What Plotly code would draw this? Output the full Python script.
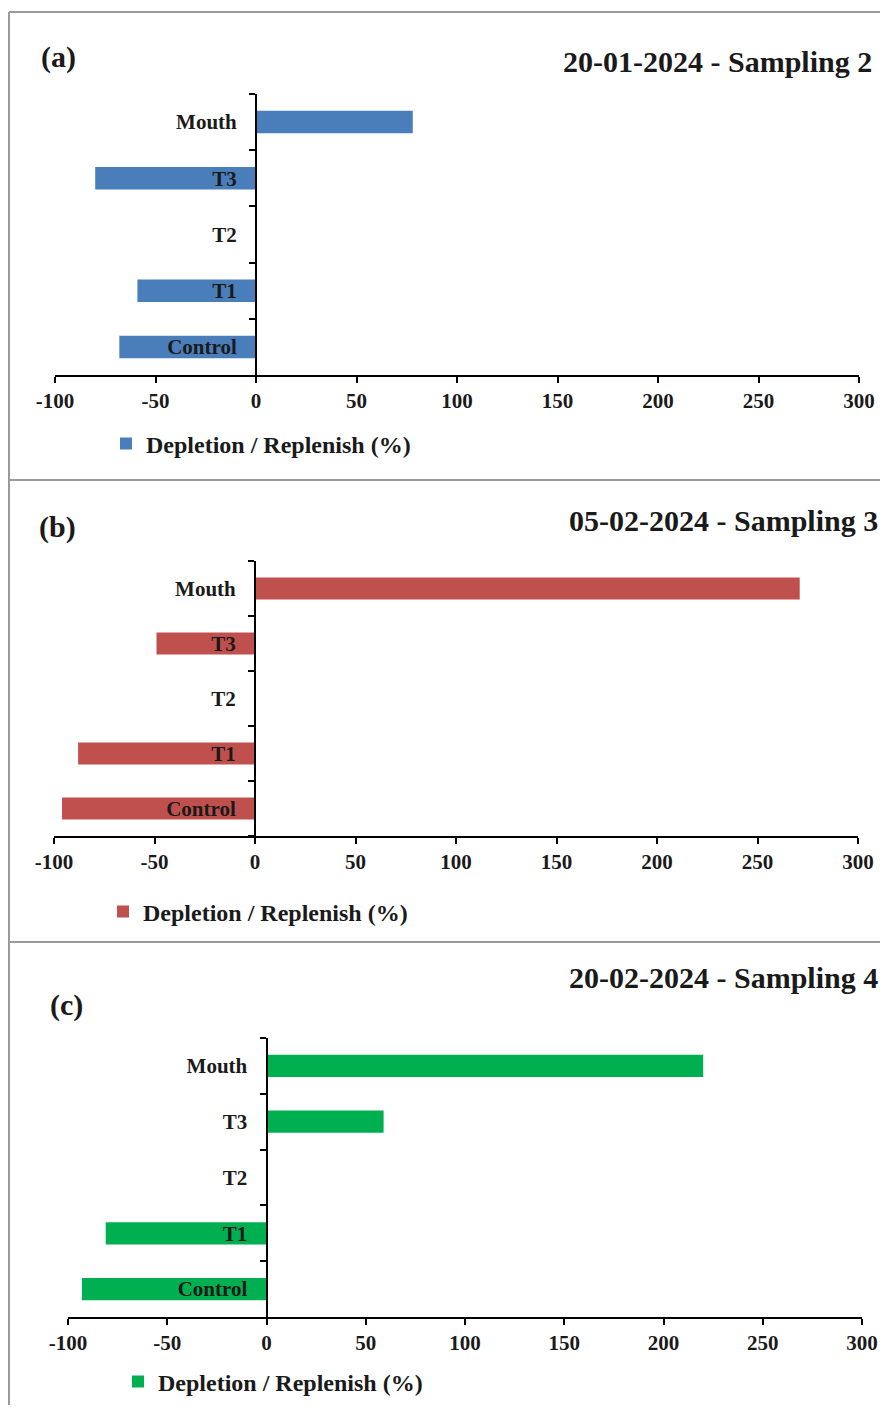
import plotly.graph_objects as go

# Data
CATEGORIES = ['Control', 'T1', 'T2', 'T3', 'Mouth']
SAMPLING_2 = [-68, -59, 0, -80, 78]
SAMPLING_3 = [-96, -88, 0, -49, 271]
SAMPLING_4 = [-93, -81, 0, 59, 220]
X_TICKS = [-100, -50, 0, 50, 100, 150, 200, 250, 300]
X_TICK_LABELS = ['-100', '-50', '0', '50', '100', '150', '200', '250', '300']
X_RANGE = [-100, 300]
SERIES_NAME = 'Depletion / Replenish (%)'

# the page body adds an 8px margin, so the figure is drawn 8px in from the corner
PAGE_W, PAGE_H = 888, 1413
OFFSET = 8
W, H = PAGE_W - 2 * OFFSET, PAGE_H - 2 * OFFSET
FONT = 'Liberation Serif'


def fx(px):
    return (px - OFFSET) / W


def fy(py):
    return 1 - (py - OFFSET) / H


# layout of each panel in page pixels
PANELS = [
    dict(values=SAMPLING_2, color='#4A7EBB', tag='(a)', title='20-01-2024 - Sampling 2',
         plot_x=(55, 859), plot_y=(94, 375), tag_pos=(39, 57), title_pos=(874, 62),
         legend_pos=(106, 444)),
    dict(values=SAMPLING_3, color='#C0504D', tag='(b)', title='05-02-2024 - Sampling 3',
         plot_x=(54, 858), plot_y=(561, 836), tag_pos=(37, 527), title_pos=(880, 520),
         legend_pos=(103, 912)),
    dict(values=SAMPLING_4, color='#00B050', tag='(c)', title='20-02-2024 - Sampling 4',
         plot_x=(68, 862), plot_y=(1038, 1317), tag_pos=(48, 1005), title_pos=(880, 977),
         legend_pos=(118, 1382)),
]

fig = go.Figure()
annotations = []
layout_axes = {}

for i, p in enumerate(PANELS, start=1):
    sfx = '' if i == 1 else str(i)
    legend_id = 'legend' + sfx
    fig.add_trace(go.Bar(
        x=p['values'], y=CATEGORIES, orientation='h',
        marker=dict(color=p['color'], line=dict(width=0)),
        width=0.4, name=SERIES_NAME,
        xaxis='x' + sfx, yaxis='y' + sfx,
        legend=legend_id, showlegend=True,
    ))

    x0, x1 = fx(p['plot_x'][0]), fx(p['plot_x'][1])
    y_pos = x0 + (0 - X_RANGE[0]) / (X_RANGE[1] - X_RANGE[0]) * (x1 - x0)

    layout_axes['xaxis' + sfx] = dict(
        domain=[x0, x1], anchor='y' + sfx, range=X_RANGE,
        tickvals=X_TICKS, ticktext=X_TICK_LABELS,
        showgrid=False, zeroline=False, automargin=False,
        showline=True, linecolor='black', linewidth=2,
        ticks='outside', ticklen=6, tickwidth=2, tickcolor='black',
        tickfont=dict(family=FONT, size=21, color='#1a1a1a', weight='bold'),
        fixedrange=True,
    )
    layout_axes['yaxis' + sfx] = dict(
        domain=[fy(p['plot_y'][1]), fy(p['plot_y'][0])],
        anchor='free', position=y_pos,
        type='category', categoryorder='array', categoryarray=CATEGORIES,
        range=[-0.5, len(CATEGORIES) - 0.5],
        showgrid=False, zeroline=False, automargin=False,
        showline=True, linecolor='black', linewidth=2,
        ticks='outside', tickson='boundaries', ticklen=6, tickwidth=2, tickcolor='black',
        ticklabelstandoff=14,
        tickfont=dict(family=FONT, size=21, color='#1a1a1a', weight='bold'),
        fixedrange=True,
    )
    layout_axes[legend_id] = dict(
        x=fx(p['legend_pos'][0]), y=fy(p['legend_pos'][1]),
        xanchor='left', yanchor='middle', orientation='h',
        bgcolor='rgba(0,0,0,0)',
        font=dict(family=FONT, size=24, color='#1a1a1a', weight='bold'),
    )

    annotations.append(dict(
        text=p['tag'], xref='paper', yref='paper',
        x=fx(p['tag_pos'][0]), y=fy(p['tag_pos'][1]),
        xanchor='left', yanchor='middle', showarrow=False,
        font=dict(family=FONT, size=30, color='#1a1a1a', weight='bold'),
    ))
    annotations.append(dict(
        text=p['title'], xref='paper', yref='paper',
        x=fx(p['title_pos'][0]), y=fy(p['title_pos'][1]),
        xanchor='right', yanchor='middle', showarrow=False,
        font=dict(family=FONT, size=30, color='#1a1a1a', weight='bold'),
    ))

# frame and separators between panels
border = dict(color='#9a9a9a', width=2)
shapes = [
    dict(type='line', xref='paper', yref='paper', x0=fx(9), x1=1, y0=fy(12), y1=fy(12), line=border),
    dict(type='line', xref='paper', yref='paper', x0=fx(9), x1=fx(9), y0=fy(12), y1=0, line=border),
    dict(type='line', xref='paper', yref='paper', x0=fx(9), x1=1, y0=fy(480), y1=fy(480), line=border),
    dict(type='line', xref='paper', yref='paper', x0=fx(9), x1=1, y0=fy(942), y1=fy(942), line=border),
]

fig.update_layout(
    width=W, height=H,
    margin=dict(l=0, r=0, t=0, b=0, pad=0),
    paper_bgcolor='white', plot_bgcolor='white',
    bargap=0.6,
    annotations=annotations,
    shapes=shapes,
    **layout_axes,
)

fig.write_html("out.html")
